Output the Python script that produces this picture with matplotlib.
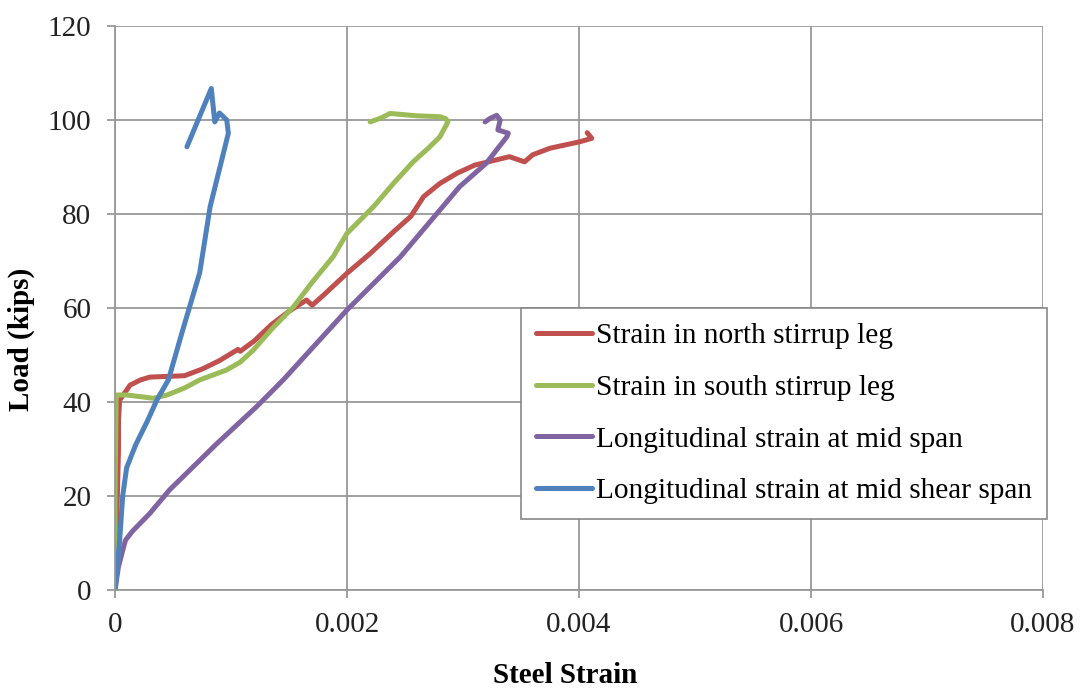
import matplotlib.pyplot as plt

# Steel strain vs. load for the four gauges
north_strain = [0, 0.00001, 0.00002, 0.00003, 0.00003, 0.00004, 0.00013, 0.00022, 0.0003, 0.0006,
                0.00075, 0.0009, 0.00106, 0.00108, 0.0012, 0.00135, 0.0015, 0.00165, 0.0017, 0.0018,
                0.002, 0.0022, 0.0024, 0.00255, 0.00266, 0.0028, 0.00295, 0.0031, 0.0033, 0.0034,
                0.00353, 0.0036, 0.00375, 0.0039, 0.00401, 0.00411, 0.00407]
north_load = [0, 10, 20, 30, 36, 40.4, 43.6, 44.7, 45.3, 45.6,
              47, 48.8, 51.2, 50.8, 53, 56.5, 59.3, 61.7, 60.6, 62.8,
              67.4, 71.6, 76.2, 79.5, 83.7, 86.5, 88.7, 90.4, 91.6, 92.2,
              91.1, 92.6, 94, 94.8, 95.4, 96.1, 97.3]

south_strain = [0, 0, 0.00001, 0.0001, 0.0002, 0.00033, 0.00045, 0.0006, 0.00073, 0.00085,
                0.00096, 0.00108, 0.00119, 0.00135, 0.00154, 0.0017, 0.00188, 0.002, 0.00223, 0.0024,
                0.00257, 0.0027, 0.0028, 0.00287, 0.00285, 0.0028, 0.0026, 0.00237, 0.0023, 0.0022]
south_load = [0, 20, 41.5, 41.5, 41.2, 40.8, 41.5, 43, 44.7, 45.8,
              46.8, 48.5, 51, 55.5, 60.3, 65.5, 70.9, 75.9, 81.6, 86.5,
              91.1, 94, 96.4, 99.6, 100.3, 100.7, 100.9, 101.4, 100.5, 99.6]

midspan_strain = [0, 0.00003, 0.00009, 0.00015, 0.0003, 0.00047, 0.00088, 0.00122, 0.00145, 0.002,
                  0.00246, 0.00297, 0.0032, 0.00338, 0.00339, 0.0033, 0.00332, 0.00329, 0.00323, 0.00319]
midspan_load = [0, 5, 10.6, 12.5, 16.3, 21.3, 31.2, 39, 44.7, 59.6,
                70.9, 85.8, 90.8, 96.5, 97.2, 97.9, 100, 101, 100.3, 99.6]

shear_strain = [0, 0.00002, 0.00004, 0.000066, 0.0001, 0.00018, 0.00028, 0.00036, 0.00046, 0.00058,
                0.00073, 0.00082, 0.00092, 0.000977, 0.000963, 0.0009, 0.00086, 0.00083, 0.00075, 0.00062]
shear_load = [0, 5, 10.6, 20, 26, 31, 36, 40.4, 44.7, 55,
              67.5, 81.6, 91.5, 97.2, 100, 101.5, 99.6, 106.7, 102, 94.3]

labels = ["Strain in north stirrup leg", "Strain in south stirrup leg",
          "Longitudinal strain at mid span", "Longitudinal strain at mid shear span"]
colors = ["#C0504D", "#9BBB59", "#8064A2", "#4F81BD"]

plt.rcParams['font.family'] = ['Liberation Serif', 'DejaVu Serif']

fig = plt.figure(figsize=(10.81, 6.90), dpi=100)
ax = fig.add_axes([0.1064, 0.1449, 0.8585, 0.8174])

series = [(north_strain, north_load), (south_strain, south_load),
          (midspan_strain, midspan_load), (shear_strain, shear_load)]
for (xs, ys), lab, c in zip(series, labels, colors):
    ax.plot(xs, ys, color=c, lw=3.6, label=lab, solid_capstyle='round', solid_joinstyle='round')

ax.set_xlim(0, 0.008)
ax.set_ylim(0, 120)
ax.set_xticks([0, 0.002, 0.004, 0.006, 0.008])
ax.set_xticklabels(["0", "0.002", "0.004", "0.006", "0.008"])
ax.set_yticks(range(0, 121, 20))
ax.grid(True, color="#999999", lw=1.3)
ax.set_axisbelow(True)
for side, sp in ax.spines.items():
    sp.set_color("#999999")
    sp.set_linewidth(1.3)
ax.spines['top'].set_visible(False)
ax.spines['right'].set_visible(False)
ax.tick_params(colors="#999999", labelcolor="#222222", labelsize=21, length=6, width=1.3)
ax.tick_params(axis='x', pad=10)
ax.tick_params(axis='y', pad=11)

ax.set_xlabel("Steel Strain", fontsize=21, fontweight='bold')
ax.set_ylabel("Load (kips)", fontsize=21, fontweight='bold')
ax.xaxis.set_label_coords(0.485, -0.128)
ax.yaxis.set_label_coords(-0.086, 0.445)

leg = ax.legend(loc='upper left', bbox_to_anchor=(0.4375, 0.5), fontsize=21.2,
                frameon=True, fancybox=False, handlelength=1.9, handletextpad=0.15,
                borderaxespad=0, labelspacing=0.85, borderpad=0.5)
leg.get_frame().set_edgecolor("#888888")
leg.get_frame().set_linewidth(1.2)
leg.get_frame().set_alpha(1)

fig.savefig("out.png", dpi=100)
